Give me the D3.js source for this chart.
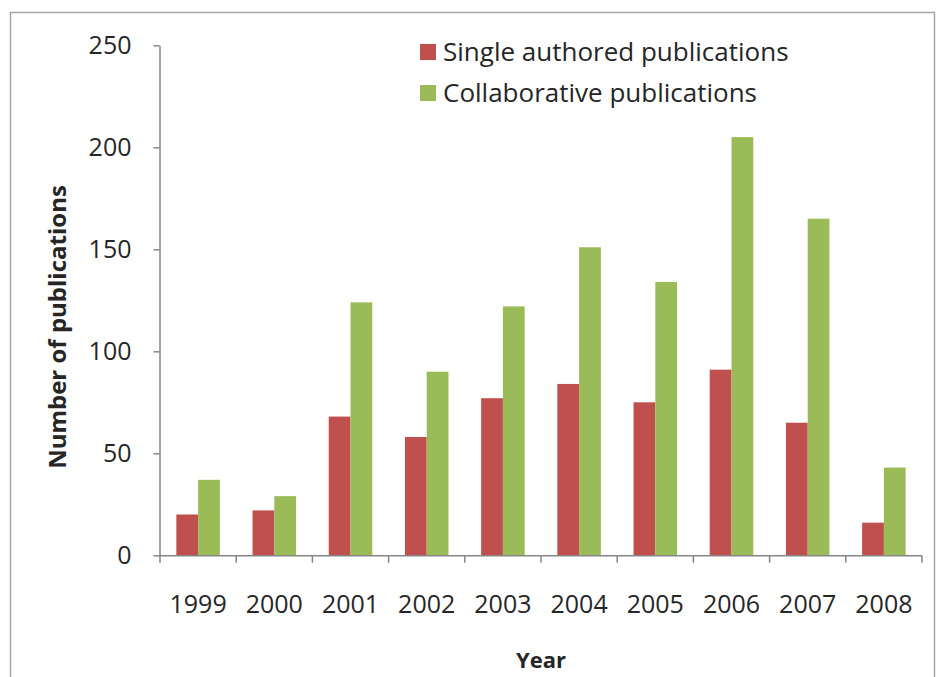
<!DOCTYPE html>
<html>
<head>
<meta charset="utf-8">
<script src="https://cdn.jsdelivr.net/npm/d3@7"></script>
<style>
  html, body { margin: 0; padding: 0; background: #fff; }
  svg { display: block; }
  text { font-family: "Open Sans", "Noto Sans", sans-serif; fill: #262626; }
</style>
</head>
<body>
<svg id="chart" width="938" height="677"></svg>
<script>
// Publications per year, split by authorship
const years = ["1999", "2000", "2001", "2002", "2003", "2004", "2005", "2006", "2007", "2008"];
const singleAuthored = [20, 22, 68, 58, 77, 84, 75, 91, 65, 16];
const collaborative = [37, 29, 124, 90, 122, 151, 134, 205, 165, 43];
const seriesNames = ["Single authored publications", "Collaborative publications"];
const seriesColors = ["#C0504D", "#9BBB59"];
const yTicks = [0, 50, 100, 150, 200, 250];

const svg = d3.select("#chart");

// outer frame
svg.append("rect")
  .attr("x", 10.5).attr("y", 12.5)
  .attr("width", 924).attr("height", 680)
  .attr("fill", "#fff")
  .attr("stroke", "#a6a6a6").attr("stroke-width", 1.5);

const plot = { left: 160, right: 922, top: 45.3, bottom: 555.3 };

const x0 = d3.scaleBand().domain(years).range([plot.left, plot.right]).paddingInner(0).paddingOuter(0);
const x1 = d3.scaleBand().domain(seriesNames).range([0, x0.bandwidth()]).paddingInner(0).paddingOuter(0.75);
const y = d3.scaleLinear().domain([0, 250]).range([plot.bottom, plot.top]);
const color = d3.scaleOrdinal().domain(seriesNames).range(seriesColors);

const rows = years.map((yr, i) => ({ year: yr, values: [singleAuthored[i], collaborative[i]] }));

// bars
const groups = svg.append("g").selectAll("g").data(rows).join("g")
  .attr("transform", d => `translate(${x0(d.year)},0)`);
groups.selectAll("rect")
  .data(d => d.values.map((v, k) => ({ name: seriesNames[k], value: v })))
  .join("rect")
  .attr("x", d => x1(d.name))
  .attr("y", d => y(d.value))
  .attr("width", x1.bandwidth())
  .attr("height", d => y(0) - y(d.value))
  .attr("fill", d => color(d.name));

// y axis
const yAxis = svg.append("g")
  .attr("transform", `translate(${plot.left - 0.5},0)`)
  .call(d3.axisLeft(y).tickValues(yTicks).tickSize(6).tickPadding(22).tickSizeOuter(0));
yAxis.select(".domain").attr("stroke", "#868686").attr("stroke-width", 1.5);
yAxis.selectAll(".tick line").attr("stroke", "#868686").attr("stroke-width", 1.5);
yAxis.selectAll(".tick text")
  .style("font-size", "25px").attr("fill", "#262626");

// x axis with ticks on category boundaries
const xAxisG = svg.append("g").attr("transform", `translate(0,${plot.bottom + 0.5})`);
xAxisG.append("line")
  .attr("x1", plot.left - 1).attr("x2", plot.right)
  .attr("stroke", "#868686").attr("stroke-width", 1.5);
const boundaries = years.map(yr => x0(yr)).concat([x0(years[years.length - 1]) + x0.bandwidth()]);
xAxisG.selectAll("line.tk").data(boundaries).join("line")
  .attr("class", "tk")
  .attr("x1", d => d).attr("x2", d => d)
  .attr("y1", 0).attr("y2", 7)
  .attr("stroke", "#868686").attr("stroke-width", 1.5);
xAxisG.selectAll("text").data(years).join("text")
  .attr("x", d => x0(d) + x0.bandwidth() / 2)
  .attr("y", 57)
  .attr("text-anchor", "middle")
  .style("font-size", "25px")
  .text(d => d);

// axis titles
svg.append("text")
  .attr("x", (plot.left + plot.right) / 2).attr("y", 668)
  .attr("text-anchor", "middle")
  .style("font-size", "22px").style("font-weight", "bold").attr("fill", "#000")
  .text("Year");
svg.append("text")
  .attr("transform", "translate(66,327) rotate(-90)")
  .attr("text-anchor", "middle")
  .style("font-size", "24px").style("font-weight", "bold").attr("fill", "#000")
  .text("Number of publications");

// legend
const legend = svg.append("g").attr("transform", "translate(420,44)");
const item = legend.selectAll("g").data(seriesNames).join("g")
  .attr("transform", (d, i) => `translate(0,${i * 41})`);
item.append("rect").attr("width", 16).attr("height", 16).attr("fill", d => color(d));
item.append("text")
  .attr("x", 23).attr("y", 8).attr("dy", "0.35em")
  .style("font-size", "26px")
  .text(d => d);
</script>
</body>
</html>
